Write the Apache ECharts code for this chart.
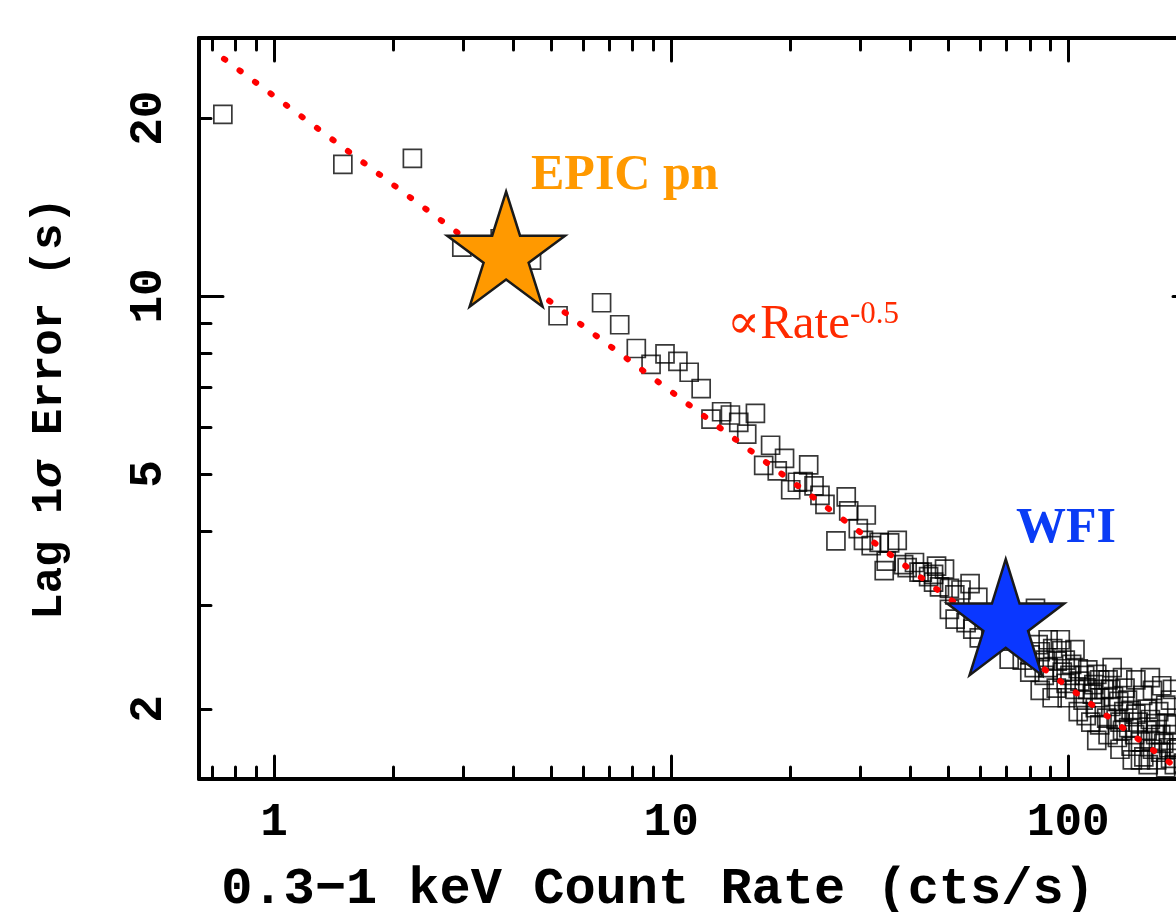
<!DOCTYPE html>
<html>
<head>
<meta charset="utf-8">
<script src="https://cdn.jsdelivr.net/npm/echarts@6/dist/echarts.min.js"></script>
<style>
  html, body { margin: 0; padding: 0; background: #ffffff; }
  #chart { width: 1176px; height: 912px; }
</style>
</head>
<body>
<div id="chart"></div>
<script>
// Lag uncertainty versus soft-band count rate, one entry per observation
const rates = [
  0.743, 1.49, 2.23, 2.97, 3.71, 4.45, 5.19, 6.68, 7.42, 8.17,
  8.90, 9.65, 10.4, 11.1, 11.9, 12.6, 13.4, 14.1, 14.8, 16.3,
  15.5, 17.8, 19.3, 17.1, 18.5, 22.2, 20.0, 20.8, 21.5, 22.9,
  23.7, 24.4, 26.0, 28.0, 31.0, 27.6, 29.6, 30.5, 31.9, 33.4,
  35.5, 37.1, 34.4, 34.8, 38.5, 39.3, 41.0, 42.1, 42.9, 44.5,
  45.8, 46.6, 48.8, 45.8, 47.4, 50.2, 51.8, 53.7, 59.2, 50.2,
  51.9, 55.3, 57.5, 56.6, 59.7, 71.0, 82.7, 80.0, 85.0, 87.5,
  91.4, 96.3, 93.8, 102, 106, 99.4, 107, 110, 118, 126,
  137, 172, 163, 111, 117, 120, 128, 132, 130, 141,
  144, 133, 144, 150, 158, 155, 163, 166, 177, 174,
  167, 181, 158, 84.0, 89.0, 96.6, 98.8, 104, 112, 115,
  123, 138, 125, 120, 137, 147, 152, 161, 171, 179,
  171, 183, 89.0, 75.7, 63.6, 67.4, 72.3, 80.2, 93.3, 109,
  116, 134, 148, 142, 161, 176, 152, 185, 128, 101,
  87.0, 190, 195, 200, 205, 85.0, 91.1, 106, 114, 126,
  135, 145, 159, 176, 187, 169, 181, 154, 139, 120,
  112, 98.3, 82.1, 76.6, 95.5, 104, 129, 148, 161, 183,
  135, 118, 166, 186
];
const lagErrors = [
  20.3, 16.7, 17.1, 12.1, 12.5, 11.5, 9.26, 9.74, 8.94, 8.15,
  7.66, 7.98, 7.75, 7.43, 6.97, 6.19, 6.37, 6.29, 6.11, 6.33,
  5.84, 5.59, 5.31, 5.17, 5.06, 5.18, 4.70, 4.84, 4.85, 4.77,
  4.60, 4.44, 3.85, 4.33, 4.26, 4.57, 4.04, 3.86, 3.78, 3.83,
  3.82, 3.86, 3.43, 3.56, 3.51, 3.47, 3.54, 3.41, 3.41, 3.35,
  3.38, 3.49, 3.45, 3.28, 3.22, 3.20, 3.12, 3.18, 3.09, 2.95,
  2.84, 2.80, 2.73, 3.26, 2.64, 2.43, 2.96, 2.31, 2.50, 2.42,
  2.53, 2.51, 2.41, 2.38, 2.34, 2.09, 2.23, 2.28, 2.29, 2.24,
  2.26, 2.19, 2.15, 1.95, 2.01, 2.09, 2.02, 1.92, 2.10, 2.07,
  1.99, 1.79, 1.73, 1.90, 1.84, 1.66, 1.71, 1.89, 1.89, 1.75,
  1.64, 1.65, 2.00, 2.57, 2.35, 2.31, 2.21, 2.16, 2.16, 2.12,
  2.16, 1.98, 1.93, 1.88, 1.84, 1.81, 1.76, 1.77, 1.81, 1.72,
  1.69, 1.81, 2.62, 2.62, 2.89, 2.78, 2.67, 2.47, 2.17, 2.07,
  2.20, 2.06, 1.96, 1.86, 1.92, 2.03, 1.64, 1.61, 2.16, 2.28,
  2.28, 1.72, 1.62, 1.68, 1.58, 2.15, 2.09, 1.98, 1.90, 1.81,
  1.71, 1.64, 1.61, 1.59, 1.71, 1.98, 2.07, 2.11, 2.17, 2.24,
  2.33, 2.42, 2.35, 2.42, 2.62, 2.52, 2.35, 2.24, 2.26, 2.16,
  1.90, 1.77, 1.81, 1.88
];

// Instrument reference points
const epicRate = [3.84];
const epicErr = [12.0];
const wfiRate = [69.6];
const wfiErr = [2.86];

// Power-law guide with index -0.5 (end points)
const fitRate = [0.748, 211];
const fitErr = [25.2, 1.50];

// Axis ranges and tick positions
const xRange = [0.647, 211];
const yRange = [1.5227, 27.33];
const xMajorTicks = [1, 10, 100];
const xMinorTicks = [0.7, 0.8, 0.9, 2, 3, 4, 5, 6, 7, 8, 9, 20, 30, 40, 50, 60, 70, 80, 90, 200];
const yLabelValues = [2, 5, 10, 20];
const yMajorTicks = [10];
const yMinorTicks = [2, 3, 4, 5, 6, 7, 8, 9, 20];

const MONO = '"Liberation Mono", "DejaVu Sans Mono", monospace';
const SERIF = '"Liberation Serif", "DejaVu Serif", serif';
const STAR = 'path://M50,0 L61.23,34.55 L97.55,34.55 L68.17,55.9 L79.39,90.45 L50,69.1 L20.61,90.45 L31.83,55.9 L2.45,34.55 L38.77,34.55 Z';

function zip(xs, ys) { return xs.map((x, i) => [x, ys[i]]); }

// One axis carries either the long or the short ticks; frames are built from pairs of them
function logAxis(position, range, ticks, length, extra) {
  const base = {
    type: 'log',
    logBase: 10,
    position: position,
    min: range[0],
    max: range[1],
    splitLine: { show: false },
    axisLine: { show: false, onZero: false },
    axisTick: {
      show: true, inside: true, length: length, customValues: ticks,
      lineStyle: { color: '#000', width: 3, cap: 'round' }
    },
    axisLabel: { show: false },
    silent: true
  };
  return Object.assign(base, extra || {});
}

const frameLine = { show: true, onZero: false, lineStyle: { color: '#000', width: 4 } };
const tickFont = { color: '#000', fontFamily: MONO, fontWeight: 'bold', fontSize: 46 };

const xAxes = [
  logAxis('bottom', xRange, xMajorTicks, 23, {
    axisLine: frameLine,
    axisLabel: Object.assign({ show: true, customValues: xMajorTicks, margin: 21,
      formatter: v => String(Math.round(v)) }, tickFont),
    name: '0.3\u22121 keV Count Rate (cts/s)',
    nameLocation: 'middle',
    nameGap: 85,
    nameTextStyle: { color: '#000', fontFamily: MONO, fontWeight: 'bold', fontSize: 52, padding: [0, 80, 0, 0] }
  }),
  logAxis('bottom', xRange, xMinorTicks, 12),
  logAxis('top', xRange, xMajorTicks, 23, { axisLine: frameLine }),
  logAxis('top', xRange, xMinorTicks, 12)
];

const yAxes = [
  logAxis('left', yRange, yMajorTicks, 24, {
    axisLine: frameLine,
    axisLabel: Object.assign({ show: true, customValues: yLabelValues, margin: 27, rotate: 90,
      formatter: v => String(Math.round(v)) }, tickFont),
    name: 'Lag 1{s|\u03c3} Error (s)',
    nameLocation: 'middle',
    nameGap: 127,
    nameTextStyle: {
      color: '#000', fontFamily: MONO, fontWeight: 'bold', fontSize: 44,
      rich: { s: { color: '#000', fontFamily: MONO, fontWeight: 'bold', fontStyle: 'italic', fontSize: 44 } }
    }
  }),
  logAxis('left', yRange, yMinorTicks, 12),
  logAxis('right', yRange, yMajorTicks, 24, { axisLine: frameLine }),
  logAxis('right', yRange, yMinorTicks, 12)
];

const chart = echarts.init(document.getElementById('chart'), null, { renderer: 'canvas' });

chart.setOption({
  animation: false,
  backgroundColor: '#ffffff',
  grid: { left: 199, top: 38, right: -21, bottom: 133, containLabel: false, outerBoundsMode: 'none' },
  xAxis: xAxes,
  yAxis: yAxes,
  series: [
    {
      name: 'sources',
      type: 'scatter',
      xAxisIndex: 0, yAxisIndex: 0,
      symbol: 'rect',
      symbolSize: 18,
      itemStyle: { color: 'rgba(0,0,0,0)', borderColor: 'rgba(0,0,0,0.78)', borderWidth: 1.7, opacity: 1 },
      data: zip(rates, lagErrors),
      z: 2
    },
    {
      name: 'Rate^-0.5',
      type: 'line',
      xAxisIndex: 0, yAxisIndex: 0,
      symbol: 'none',
      lineStyle: { color: '#ff0000', width: 6, type: [1.5, 17.8], cap: 'round', opacity: 1 },
      data: zip(fitRate, fitErr),
      z: 3
    },
    {
      name: 'EPIC pn',
      type: 'scatter',
      xAxisIndex: 0, yAxisIndex: 0,
      symbol: STAR,
      symbolSize: [118, 115],
      itemStyle: { color: '#ff9900', borderColor: '#1a1a1a', borderWidth: 2.5, opacity: 1 },
      data: zip(epicRate, epicErr),
      z: 4
    },
    {
      name: 'WFI',
      type: 'scatter',
      xAxisIndex: 0, yAxisIndex: 0,
      symbol: STAR,
      symbolSize: [117, 116],
      itemStyle: { color: '#0a37ff', borderColor: '#1a1a1a', borderWidth: 2.5, opacity: 1 },
      data: zip(wfiRate, wfiErr),
      z: 4
    }
  ],
  graphic: [
    { type: 'text', x: 531, y: 176, z: 10, silent: true,
      style: { text: 'EPIC pn', fill: '#ff9900', fontFamily: SERIF, fontWeight: 'bold', fontSize: 50,
        textAlign: 'left', textVerticalAlign: 'middle', align: 'left', verticalAlign: 'middle' } },
    { type: 'text', x: 1016, y: 529, z: 10, silent: true,
      style: { text: 'WFI', fill: '#0a3cf5', fontFamily: SERIF, fontWeight: 'bold', fontSize: 50,
        textAlign: 'left', textVerticalAlign: 'middle', align: 'left', verticalAlign: 'middle' } },
    { type: 'text', x: 727, y: 325, z: 10, silent: true,
      style: { text: '\u221dRate', fill: '#ff2a00', fontFamily: SERIF, fontSize: 49,
        textAlign: 'left', textVerticalAlign: 'middle', align: 'left', verticalAlign: 'middle' } },
    { type: 'text', x: 850, y: 315, z: 10, silent: true,
      style: { text: '-0.5', fill: '#ff2a00', fontFamily: SERIF, fontSize: 31,
        textAlign: 'left', textVerticalAlign: 'middle', align: 'left', verticalAlign: 'middle' } }
  ]
});
</script>
</body>
</html>
